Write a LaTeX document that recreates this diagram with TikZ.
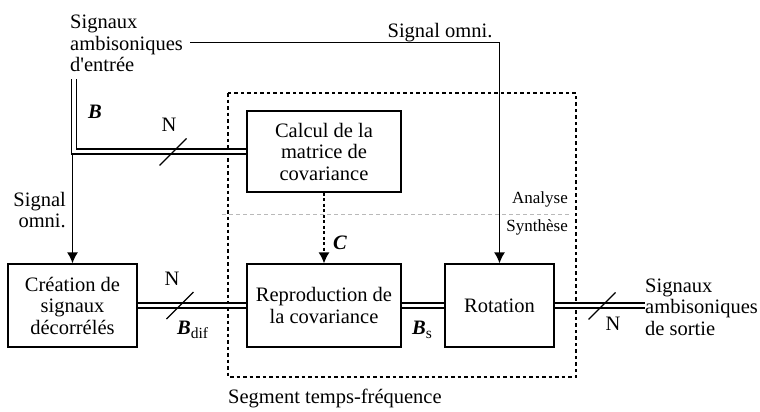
\documentclass[tikz,border=0pt]{standalone}
\usepackage{fontspec}
\setmainfont{Liberation Serif}[Ligatures=TeXOff]
\usetikzlibrary{arrows.meta}
\newcommand{\vect}[1]{{\bfseries\itshape #1}}
\newcommand{\idx}[1]{\raisebox{-4pt}{\fontsize{15.5}{15.5}\selectfont #1}}
\begin{document}
\begin{tikzpicture}[x=1pt,y=-1pt,
  every node/.style={font=\fontsize{20.5}{21.5}\selectfont},
  block/.style={draw,line width=1.3pt,align=center,inner sep=0pt},
  bus/.style={double,double distance=3.8pt,line width=1.25pt},
  sig/.style={line width=1.3pt,-{Latex[length=11pt,width=11pt]}},
  ctl/.style={sig,dash pattern=on 3pt off 2.5pt},
  frame/.style={line width=1.2pt,dash pattern=on 3.5pt off 3pt},
  split/.style={gray!55,line width=1pt,dash pattern=on 4pt off 3pt},
  slashmark/.style={line width=1.3pt},
  lbl/.style={inner sep=0pt},
  small/.style={font=\fontsize{17}{18}\selectfont}]
\useasboundingbox (0,0) rectangle (760,412);

% time-frequency segment frame and analysis/synthesis split
\coordinate (fr1) at (228,93);
\coordinate (fr2) at (576,377);
\draw[frame] (fr1) rectangle (fr2);
\coordinate (sp1) at (222,214);
\coordinate (sp2) at (570,214);
\draw[split] (sp1) -- (sp2);
\node[lbl,small,anchor=east] (ana) at (568,199) {Analyse};
\node[lbl,small,anchor=east] (syn) at (568,227) {Synthèse};
\node[lbl,anchor=west] (seg) at (228,398) {Segment temps-fréquence};

% processing blocks
\node[block,minimum width=154pt,minimum height=81pt] (calc) at (324,151.5) {Calcul de la\\matrice de\\covariance};
\node[block,minimum width=154pt,minimum height=83pt] (repro) at (324,305.5) {Reproduction de\\la covariance};
\node[block,minimum width=129pt,minimum height=83pt] (decor) at (72.5,305.5) {Création de\\signaux\\décorrélés};
\node[block,minimum width=109pt,minimum height=83pt] (rot) at (499.5,305.5) {Rotation};

% input and output texts
\node[lbl,align=left,anchor=west] (in) at (70,43.5) {Signaux\\ambisoniques\\d'entrée};
\node[lbl,align=left,anchor=west] (out) at (645,307) {Signaux\\ambisoniques\\de sortie};

% input bus B
\coordinate (bin) at (74,79);
\draw[bus] (bin) |- (calc.west);
\coordinate (bfork) at (72.5,154);
\draw[sig] (bfork) -- (bfork |- decor.north);
\node[lbl,align=right,anchor=east] (omniL) at (66,210) {Signal\\omni.};

% omnidirectional signal to the rotation
\coordinate (omni) at (190,42.5);
\draw[sig] (omni) -| (rot.north);
\node[lbl] (omniT) at (440,33) {Signal omni.};

% covariance matrix C
\draw[ctl] (calc.south) -- (repro.north);
\node[lbl] (lC) at (340,243) {\vect{C}};

% lower buses
\draw[bus] (decor.east) -- (repro.west);
\draw[bus] (repro.east) -- (rot.west);
\draw[bus] (rot.east) -- (rot.east -| out.west);

% channel count marks
\coordinate (s1) at (173,152);
\coordinate (s2) at (180,305.5);
\coordinate (s3) at (602,306);
\draw[slashmark] (s1) ++(-13.5,13.5) -- ++(27,-27);
\draw[slashmark] (s2) ++(-13.5,13.5) -- ++(27,-27);
\draw[slashmark] (s3) ++(-13.5,13.5) -- ++(27,-27);
\node[lbl] (n1) at (169,125) {N};
\node[lbl] (n2) at (172,279) {N};
\node[lbl] (n3) at (613,324) {N};

% bus labels
\node[lbl] (lB) at (95,112) {\vect{B}};
\node[lbl,anchor=west] (lBd) at (177,330) {\vect{B}\idx{dif}};
\node[lbl,anchor=west] (lBs) at (412,330) {\vect{B}\idx{s}};
\end{tikzpicture}
\end{document}
